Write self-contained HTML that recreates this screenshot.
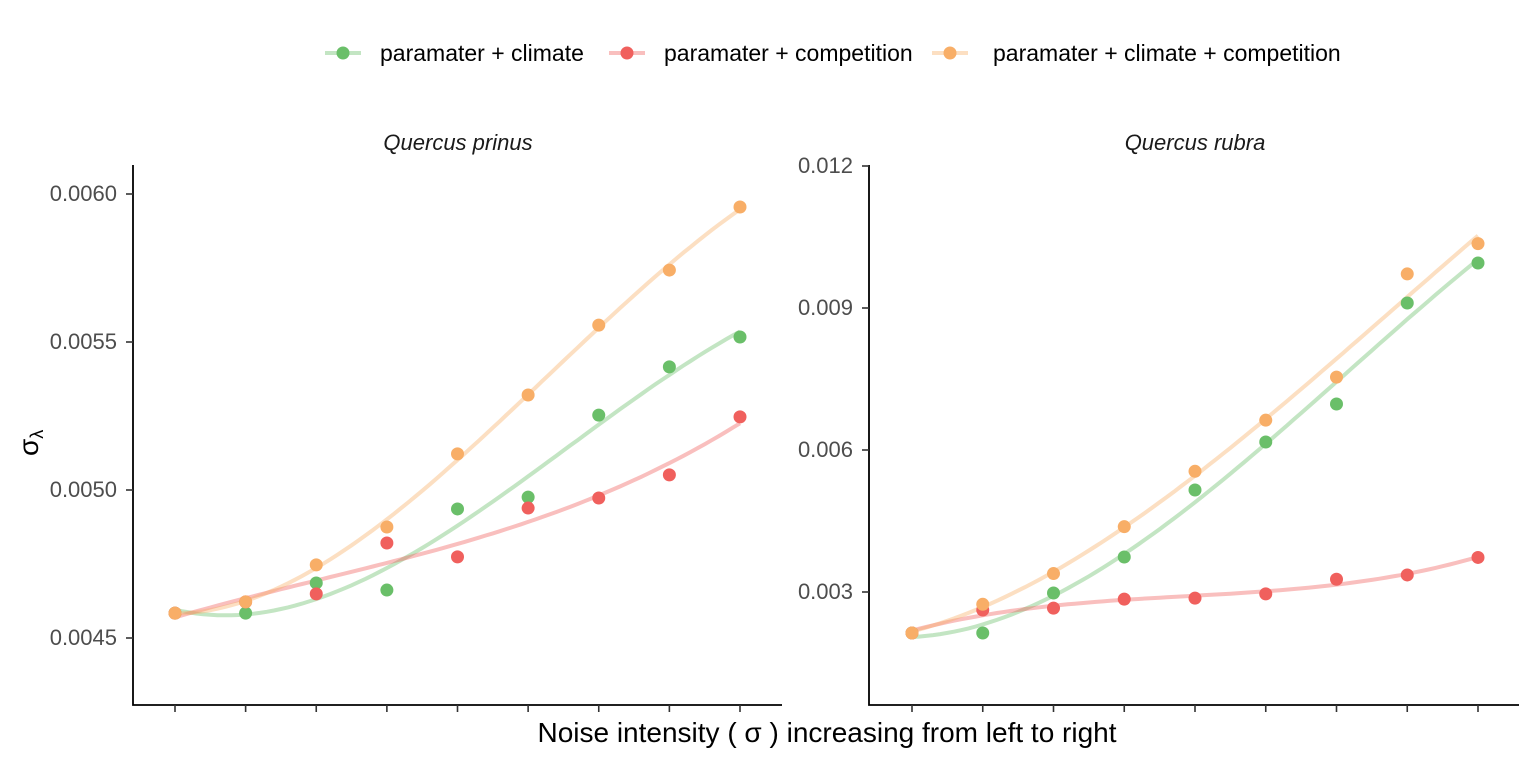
<!DOCTYPE html>
<html><head><meta charset="utf-8"><style>
html,body{margin:0;padding:0;background:#fff;}
svg{display:block;font-family:"Liberation Sans",sans-serif;}
</style></head><body>
<svg id="chart" width="1536" height="768"></svg>
<script>
const xCats=[1,2,3,4,5,6,7,8,9];
const seriesNames=["paramater + climate","paramater + competition","paramater + climate + competition"];
const colors=["#6abf69","#f0605d","#f8ae67"];
const prinusGreen=[0.004584,0.004584,0.004686,0.004662,0.004936,0.004976,0.005253,0.005416,0.005517];
const prinusRed=[0.004584,0.004622,0.004649,0.004821,0.004774,0.004939,0.004973,0.005051,0.005247];
const prinusOrange=[0.004584,0.004622,0.004747,0.004875,0.005122,0.005321,0.005557,0.005743,0.005956];
const rubraGreen=[0.002134,0.002134,0.002979,0.003739,0.005155,0.006169,0.006972,0.009106,0.009951];
const rubraRed=[0.002134,0.00262,0.00266,0.00285,0.00287,0.00296,0.00327,0.00336,0.00373];
const rubraOrange=[0.002134,0.00274,0.00339,0.00438,0.00555,0.00663,0.00754,0.00972,0.01036];
const prinusTicks=[0.0045,0.0050,0.0055,0.0060];
const prinusTickLabels=["0.0045","0.0050","0.0055","0.0060"];
const rubraTicks=[0.003,0.006,0.009,0.012];
const rubraTickLabels=["0.003","0.006","0.009","0.012"];

const NS="http://www.w3.org/2000/svg";
const svg=document.getElementById('chart');
function mk(tag,attrs,parent){const e=document.createElementNS(NS,tag);for(const k in attrs)e.setAttribute(k,attrs[k]);(parent||svg).appendChild(e);return e;}

function polyfit(xs,ys,deg){
  const n=deg+1;const A=[];for(let i=0;i<n;i++){A.push(new Array(n+1).fill(0));}
  for(let k=0;k<xs.length;k++){for(let i=0;i<n;i++){for(let j=0;j<n;j++)A[i][j]+=Math.pow(xs[k],i+j);A[i][n]+=ys[k]*Math.pow(xs[k],i);}}
  for(let i=0;i<n;i++){let p=i;for(let r=i+1;r<n;r++)if(Math.abs(A[r][i])>Math.abs(A[p][i]))p=r;[A[i],A[p]]=[A[p],A[i]];
    for(let r=0;r<n;r++){if(r===i)continue;const f=A[r][i]/A[i][i];for(let c=i;c<=n;c++)A[r][c]-=f*A[i][c];}}
  return A.map((row,i)=>row[n]/row[i]);
}

function panel(cfg){
  const g=mk('g',{});
  
  
  const xs=v=>cfg.x0+(v-1)*(cfg.x1-cfg.x0)/8;
  const ys=v=>cfg.yA+(v-cfg.vA)*(cfg.yB-cfg.yA)/(cfg.vB-cfg.vA);
  const ax=mk('path',{d:`M${cfg.left},165V705H${cfg.right}`,stroke:'#000','stroke-width':1.8,fill:'none'},g);
  
  xCats.forEach(c=>{const t=mk('line',{x1:xs(c),x2:xs(c),y1:705,y2:712,stroke:'#333','stroke-width':1.6},g);
    });
  cfg.ticks.forEach((v,i)=>{mk('line',{x1:cfg.left-7,x2:cfg.left,y1:ys(v),y2:ys(v),stroke:'#333','stroke-width':1.6},g);
    const t=mk('text',{x:cfg.left-16,y:ys(v)+7,'text-anchor':'end','font-size':22,fill:'#4d4d4d'},g);t.textContent=cfg.labels[i];
    });
  const tt=mk('text',{x:cfg.titleX,y:150,'text-anchor':'middle','font-size':22,'font-style':'italic',fill:'#1a1a1a'},g);
  tt.textContent=cfg.title;
  cfg.series.forEach((s,si)=>{
    const co=polyfit(xCats,s,3);let d='';
    for(let t=1;t<=9.0001;t+=0.1){const v=co[0]+co[1]*t+co[2]*t*t+co[3]*t*t*t;d+=(d?'L':'M')+xs(t).toFixed(1)+','+ys(v).toFixed(1);}
    const p=mk('path',{d:d,stroke:colors[si],'stroke-opacity':0.4,'stroke-width':4,fill:'none'},g);
    
  });
  cfg.series.forEach((s,si)=>{s.forEach((v,i)=>{
    const c=mk('circle',{cx:xs(xCats[i]),cy:ys(v),r:6.5,fill:colors[si]},g);
    });});
}
panel({name:'panel-quercus-prinus',left:133,right:782,x0:175,x1:740,yA:638,vA:0.0045,yB:194,vB:0.0060,ticks:prinusTicks,labels:prinusTickLabels,title:'Quercus prinus',titleX:458,series:[prinusGreen,prinusRed,prinusOrange]});
panel({name:'panel-quercus-rubra',left:869,right:1519,x0:912,x1:1478,yA:592,vA:0.003,yB:166,vB:0.012,ticks:rubraTicks,labels:rubraTickLabels,title:'Quercus rubra',titleX:1195,series:[rubraGreen,rubraRed,rubraOrange]});

const xt=mk('text',{x:827,y:742,'text-anchor':'middle','font-size':28,fill:'#000'});
xt.textContent='Noise intensity ( σ ) increasing from left to right';

const yt=mk('text',{x:0,y:0,'font-size':28,fill:'#000',transform:'translate(38,456) rotate(-90)'});
yt.innerHTML='σ<tspan font-size="18" dy="5">λ</tspan>';


const legX=[343,627,950];
const legT=[380,664,993];
seriesNames.forEach((n,i)=>{
  const g=mk('g',{});
  
  mk('line',{x1:legX[i]-18,x2:legX[i]+18,y1:53,y2:53,stroke:colors[i],'stroke-opacity':0.4,'stroke-width':4},g);
  mk('circle',{cx:legX[i],cy:53,r:6.5,fill:colors[i]},g);
  const t=mk('text',{x:legT[i],y:61,'font-size':23,fill:'#000'},g);t.textContent=n;
});
</script>
</body></html>
